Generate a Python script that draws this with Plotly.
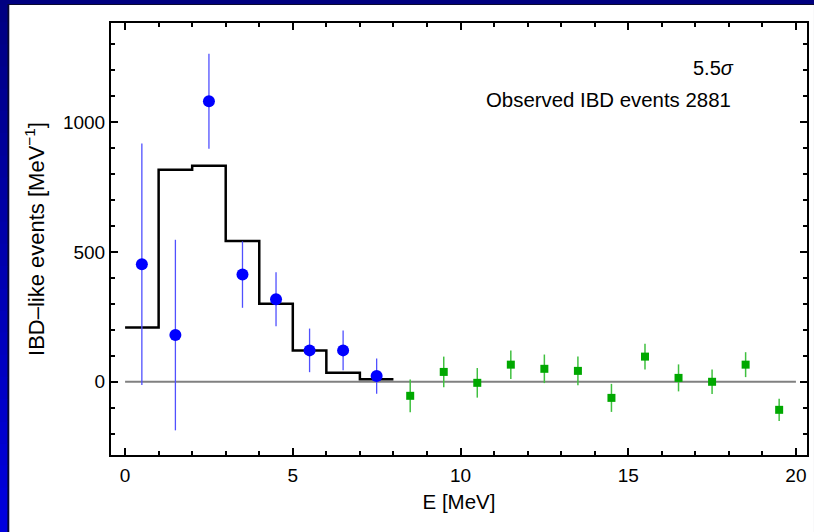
import plotly.graph_objects as go

# Data
e_obs = [0.5, 1.5, 2.5, 3.5, 4.5, 5.5, 6.5, 7.5]
n_obs = [453, 180, 1081, 413, 318, 121, 121, 22]
n_obs_err = [465, 367, 183, 128, 104, 84, 77, 68]

e_high = [8.5, 9.5, 10.5, 11.5, 12.5, 13.5, 14.5, 15.5, 16.5, 17.5, 18.5, 19.5]
n_high = [-54, 38, -4, 66, 50, 42, -62, 97, 15, 0, 66, -108]
n_high_err = [63, 59, 57, 55, 55, 55, 54, 50, 52, 47, 48, 43]

bin_edges = [0, 1, 2, 3, 4, 5, 6, 7, 8]
expected = [209, 817, 832, 542, 301, 121, 35, 10]

zero_x = [0, 20]
zero_y = [0, 0]

x_ticks = [0, 5, 10, 15, 20]
y_ticks = [0, 500, 1000]

W, H = 814, 532
L, R, T, B = 111, 5, 23, 77

fig = go.Figure()

fig.add_trace(go.Scatter(x=zero_x, y=zero_y, mode="lines",
                         line=dict(color="#808080", width=2), hoverinfo="skip"))
fig.add_trace(go.Scatter(x=bin_edges, y=expected + [expected[-1]], mode="lines",
                         line=dict(color="black", width=2.5, shape="hv")))
fig.add_trace(go.Scatter(x=e_obs, y=n_obs, mode="markers",
                         marker=dict(color="#0000ff", size=12, symbol="circle"),
                         error_y=dict(type="data", array=n_obs_err, color="#5050ff",
                                      thickness=1.3, width=0)))
fig.add_trace(go.Scatter(x=e_high, y=n_high, mode="markers",
                         marker=dict(color="#00a800", size=8, symbol="square"),
                         error_y=dict(type="data", array=n_high_err, color="#40c040",
                                      thickness=1.5, width=0)))

# border decoration (page background)
shapes = []
def px2paper_x(px):
    return (px - L) / (W - L - R)
def py2paper_y(py):
    return (H - B - py) / (H - T - B)

shapes.append(dict(type="rect", xref="paper", yref="paper",
                   x0=px2paper_x(7), x1=px2paper_x(W + 2), y0=py2paper_y(H + 2), y1=py2paper_y(4),
                   fillcolor="#0a0a30", line=dict(width=0), layer="below"))
shapes.append(dict(type="rect", xref="paper", yref="paper",
                   x0=px2paper_x(9), x1=px2paper_x(W + 2), y0=py2paper_y(H + 2), y1=py2paper_y(5),
                   fillcolor="white", line=dict(width=0), layer="below"))
n = 24
for i in range(n):
    y0p = i * H / n
    y1p = (i + 1) * H / n
    f = (i + 0.5) / n
    b = int(128 + f * (225 - 128))
    shapes.append(dict(type="rect", xref="paper", yref="paper",
                       x0=px2paper_x(-2), x1=px2paper_x(7), y0=py2paper_y(y1p + 0.5), y1=py2paper_y(y0p),
                       fillcolor=f"rgb(0,0,{b})", line=dict(width=0), layer="below"))
shapes.append(dict(type="rect", xref="paper", yref="paper",
                   x0=px2paper_x(-2), x1=px2paper_x(W + 2), y0=py2paper_y(4), y1=py2paper_y(-2),
                   fillcolor="#000080", line=dict(width=0), layer="below"))

font = "Liberation Sans, Arial, sans-serif"
fig.update_layout(
    width=W, height=H,
    margin=dict(l=L, r=R, t=T, b=B, pad=0),
    paper_bgcolor="#000080", plot_bgcolor="white",
    showlegend=False,
    font=dict(family=font, size=19, color="black"),
    shapes=shapes,
    annotations=[
        dict(text="5.5<i>σ</i>", xref="paper", yref="paper", x=px2paper_x(738), y=py2paper_y(68),
             xanchor="right", yanchor="middle", showarrow=False, font=dict(size=20)),
        dict(text="Observed IBD events 2881", xref="paper", yref="paper", x=px2paper_x(735), y=py2paper_y(100),
             xanchor="right", yanchor="middle", showarrow=False, font=dict(size=20.4)),
    ],
)
fig.update_xaxes(range=[-0.42, 20.33], tickvals=x_ticks, ticks="inside", ticklen=7, tickwidth=1.5,
                 tickcolor="black", showline=True, linecolor="black", linewidth=2, mirror="allticks",
                 showgrid=False, zeroline=False,
                 minor=dict(dtick=1, tick0=0, ticks="inside", ticklen=4, tickwidth=1.5, tickcolor="black", showgrid=False),
                 title=dict(text="E [MeV]", standoff=10, font=dict(size=20.5)), ticklabelstandoff=2)
fig.update_yaxes(range=[-282, 1382], tickvals=y_ticks, ticks="inside", ticklen=7, tickwidth=1.5,
                 tickcolor="black", showline=True, linecolor="black", linewidth=2, mirror="allticks",
                 showgrid=False, zeroline=False,
                 minor=dict(dtick=100, tick0=0, ticks="inside", ticklen=4, tickwidth=1.5, tickcolor="black", showgrid=False),
                 title=dict(text="IBD\u2013like events [MeV<sup>\u22121</sup>]", standoff=12, font=dict(size=22)),
                 ticklabelstandoff=0)

fig.write_html("out.html", config={"displayModeBar": False},
               post_script="document.body.style.margin='0';document.body.style.overflow='hidden';")
